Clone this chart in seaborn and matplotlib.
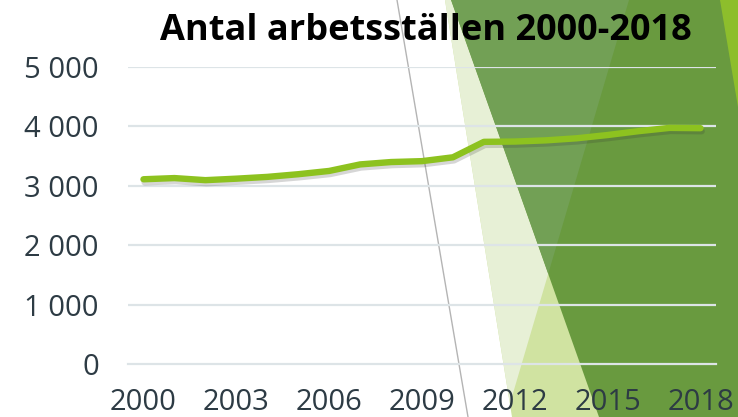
import matplotlib
matplotlib.use("Agg")
import matplotlib.pyplot as plt
import matplotlib.patheffects as pe
from matplotlib.patches import Polygon
import seaborn as sns
import pandas as pd

years = list(range(2000, 2019))
values = [3110, 3130, 3095, 3120, 3150, 3195, 3250, 3360, 3400, 3415,
          3480, 3740, 3745, 3765, 3800, 3855, 3920, 3975, 3970]
xtick_years = [2000, 2003, 2006, 2009, 2012, 2015, 2018]
ytick_vals = [0, 1000, 2000, 3000, 4000, 5000]
ytick_labels = ["0", "1 000", "2 000", "3 000", "4 000", "5 000"]
title = "Antal arbetsställen 2000-2018"

df = pd.DataFrame({"year": years, "value": values})

sns.set_theme(style="white")
plt.rcParams["font.family"] = ["Open Sans", "DejaVu Sans"]

W, H = 738, 417
fig = plt.figure(figsize=(W / 100, H / 100), dpi=100)
fig.patch.set_facecolor("white")


def P(pts):
    return [(x / W, 1 - y / H) for x, y in pts]


def poly(pts, color, z):
    fig.patches.append(Polygon(P(pts), closed=True, transform=fig.transFigure,
                               facecolor=color, edgecolor="none", zorder=z))


# decorative background shapes
poly([(445, 0), (738, 0), (738, 417), (512, 417)], "#D0E3A1", 0)
poly([(451, 0), (738, 0), (738, 417), (599, 417)], "#699A3F", 1)
poly([(445, 0), (451, 0), (548.2, 273.9), (509.9, 403.8)], "#E7F0D6", 2)
poly([(451, 0), (629, 0), (548.2, 273.9)], "#72A055", 2)
poly([(720, 0), (738, 0), (738, 107)], "#8DBE2C", 2)
fig.lines.append(plt.Line2D([397 / W, 468 / W], [1, 0], transform=fig.transFigure,
                            color="#B4B4B4", lw=1.0, zorder=3))

ax = fig.add_axes([128 / W, 1 - 364 / H, (716 - 128) / W, (364 - 67) / H])
ax.set_facecolor("none")
ax.set_zorder(10)

sns.lineplot(data=df, x="year", y="value", ax=ax, color="#8DC21F", lw=4.6,
             solid_capstyle="round", solid_joinstyle="round", zorder=5,
             path_effects=[pe.SimpleLineShadow(offset=(0.8, -2.2), shadow_color="#333333", alpha=0.2),
                           pe.Normal()])

ax.set_xlim(years[0] - 0.5, years[-1] + 0.5)
ax.set_ylim(0, 5000)
ax.set_yticks(ytick_vals)
ax.set_yticklabels(ytick_labels)
ax.set_xticks(xtick_years)
ax.set_xticklabels([str(y) for y in xtick_years])
ax.set_xticks([y - 0.5 for y in years] + [years[-1] + 0.5], minor=True)
ax.set_xlabel("")
ax.set_ylabel("")

grid_c = "#DDE4E7"
for v in ytick_vals[1:]:
    ax.axhline(v, color=grid_c, lw=1.6, zorder=2)
for s in ["top", "right", "left"]:
    ax.spines[s].set_visible(False)
ax.spines["bottom"].set_color(grid_c)
ax.spines["bottom"].set_linewidth(1.6)
ax.spines["bottom"].set_zorder(2)

ax.tick_params(axis="y", length=0, pad=21, labelsize=21, labelcolor="#2D3B44")
ax.tick_params(axis="x", which="major", length=0, pad=17, labelsize=21, labelcolor="#2D3B44")
ax.tick_params(axis="x", which="minor", length=6, width=1.6, color=grid_c, direction="out")

fig.text(426 / W, 1 - 40 / H, title, ha="center", va="baseline",
         fontsize=26, fontweight="bold", color="black", zorder=20)

fig.savefig("out.png", dpi=100)
